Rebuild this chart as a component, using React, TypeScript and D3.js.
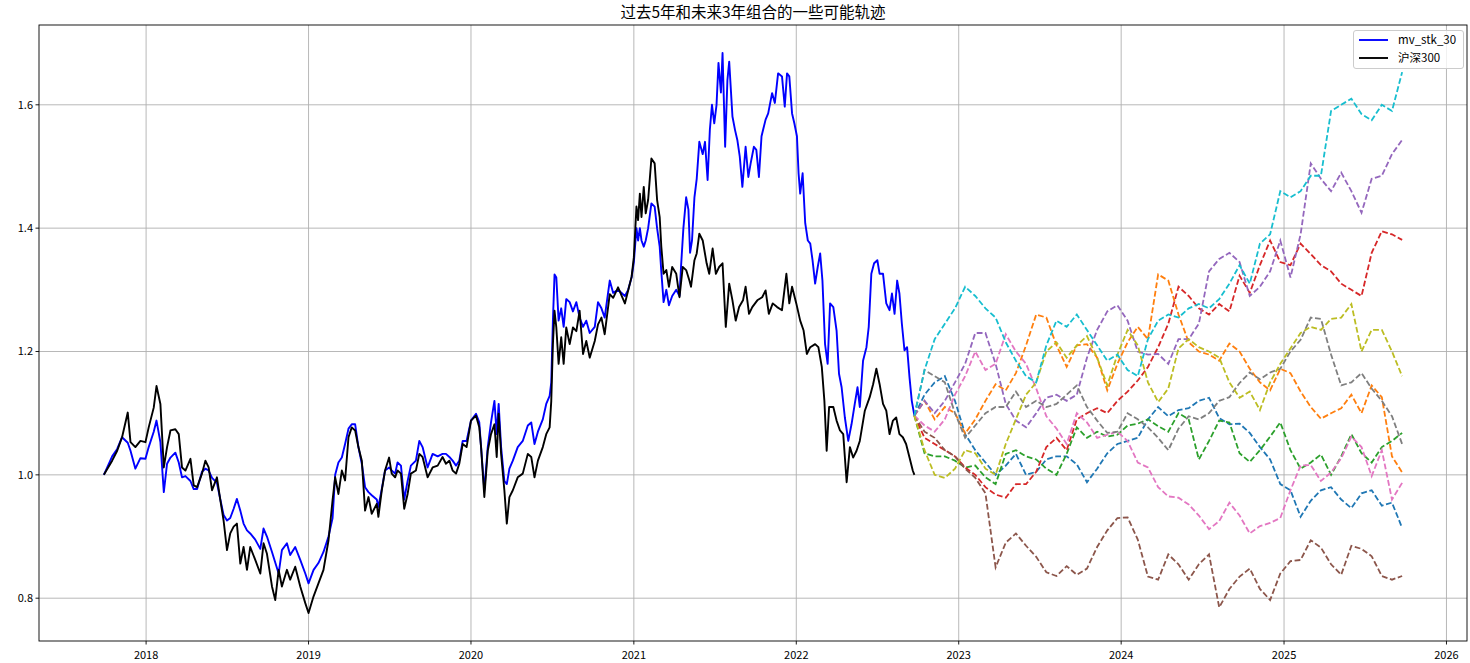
import { useEffect } from 'react';
import * as d3 from 'd3';

const W = 1470;
const H = 663;
const MARGIN = { top: 25, right: 3, bottom: 22, left: 39 };
const FONT = "SimHei, 'Noto Sans CJK SC', 'DejaVu Sans', sans-serif";

const TITLE = '过去5年和未来3年组合的一些可能轨迹';
const SERIES_NAMES = ['mv_stk_30', '沪深300'];
const Y_TICKS = [0.8, 1.0, 1.2, 1.4, 1.6];
const X_TICKS = [2018, 2019, 2020, 2021, 2022, 2023, 2024, 2025, 2026];

// history, [decimal year, value]
const HS300: [number, number][] = [
  [2017.740, 1.000], [2017.791, 1.023], [2017.822, 1.039], [2017.852, 1.061], [2017.887, 1.101], [2017.904, 1.053],
  [2017.934, 1.045], [2017.965, 1.055], [2017.996, 1.053], [2018.016, 1.077], [2018.047, 1.109], [2018.064, 1.144],
  [2018.088, 1.115], [2018.109, 1.012], [2018.129, 1.045], [2018.150, 1.072], [2018.180, 1.074], [2018.201, 1.066],
  [2018.221, 1.012], [2018.242, 1.007], [2018.273, 1.026], [2018.293, 0.983], [2018.314, 0.980], [2018.344, 1.002],
  [2018.365, 1.023], [2018.385, 1.012], [2018.406, 0.975], [2018.436, 0.996], [2018.457, 0.959], [2018.477, 0.926],
  [2018.498, 0.878], [2018.518, 0.905], [2018.539, 0.916], [2018.559, 0.921], [2018.580, 0.856], [2018.600, 0.883],
  [2018.621, 0.846], [2018.641, 0.883], [2018.672, 0.862], [2018.703, 0.840], [2018.723, 0.889], [2018.744, 0.872],
  [2018.775, 0.819], [2018.795, 0.797], [2018.816, 0.846], [2018.836, 0.819], [2018.867, 0.846], [2018.887, 0.830],
  [2018.918, 0.851], [2018.949, 0.819], [2018.980, 0.792], [2019.000, 0.776], [2019.031, 0.803], [2019.061, 0.824],
  [2019.092, 0.846], [2019.123, 0.894], [2019.148, 0.959], [2019.164, 0.996], [2019.184, 0.969], [2019.205, 1.007],
  [2019.225, 0.991], [2019.246, 1.061], [2019.266, 1.077], [2019.287, 1.072], [2019.307, 1.045], [2019.328, 1.023],
  [2019.348, 0.942], [2019.369, 0.964], [2019.389, 0.937], [2019.420, 0.953], [2019.430, 0.932], [2019.451, 0.975],
  [2019.471, 1.007], [2019.496, 1.028], [2019.512, 1.002], [2019.533, 0.996],
  [2019.548, 1.007], [2019.569, 1.002], [2019.589, 0.945], [2019.610, 0.969], [2019.630, 1.002], [2019.661, 1.007],
  [2019.682, 1.034], [2019.702, 1.029], [2019.733, 0.996], [2019.764, 1.012], [2019.795, 1.015], [2019.825, 1.029],
  [2019.846, 1.018], [2019.867, 1.023], [2019.887, 1.007], [2019.908, 1.002], [2019.928, 1.018], [2019.949, 1.050],
  [2019.973, 1.045], [2020.000, 1.088], [2020.031, 1.096], [2020.051, 1.077], [2020.062, 1.045], [2020.082, 0.964],
  [2020.103, 1.039], [2020.123, 1.066], [2020.144, 1.082], [2020.158, 1.029], [2020.170, 1.099], [2020.185, 1.034],
  [2020.205, 0.975], [2020.220, 0.921], [2020.236, 0.964], [2020.257, 0.975], [2020.287, 0.996], [2020.318, 1.002],
  [2020.349, 1.034], [2020.370, 1.029], [2020.390, 0.996], [2020.411, 1.023], [2020.441, 1.045], [2020.462, 1.066],
  [2020.483, 1.077], [2020.493, 1.120], [2020.503, 1.212], [2020.513, 1.266], [2020.524, 1.239], [2020.538, 1.180],
  [2020.554, 1.223], [2020.569, 1.180], [2020.585, 1.239], [2020.606, 1.212], [2020.626, 1.239], [2020.647, 1.233],
  [2020.667, 1.266], [2020.688, 1.196], [2020.708, 1.217], [2020.729, 1.190], [2020.760, 1.217], [2020.780, 1.244],
  [2020.801, 1.255], [2020.821, 1.228], [2020.852, 1.293], [2020.873, 1.287], [2020.903, 1.304],
  [2020.945, 1.278], [2020.965, 1.299], [2020.986, 1.321], [2021.000, 1.353], [2021.016, 1.435], [2021.026, 1.413],
  [2021.037, 1.456], [2021.047, 1.418], [2021.061, 1.467], [2021.073, 1.424], [2021.088, 1.446], [2021.108, 1.513],
  [2021.128, 1.505], [2021.143, 1.446], [2021.159, 1.418], [2021.169, 1.370], [2021.183, 1.326], [2021.200, 1.332],
  [2021.216, 1.305], [2021.236, 1.337], [2021.261, 1.326], [2021.281, 1.288], [2021.301, 1.337], [2021.322, 1.332],
  [2021.342, 1.315], [2021.352, 1.305], [2021.373, 1.348], [2021.387, 1.359], [2021.403, 1.391], [2021.424, 1.380],
  [2021.448, 1.343], [2021.464, 1.326], [2021.485, 1.367], [2021.505, 1.326], [2021.525, 1.337], [2021.546, 1.343],
  [2021.566, 1.240], [2021.587, 1.310], [2021.607, 1.283], [2021.627, 1.250], [2021.648, 1.272], [2021.672, 1.283],
  [2021.688, 1.305], [2021.709, 1.261], [2021.729, 1.272], [2021.760, 1.283], [2021.790, 1.288], [2021.811, 1.299],
  [2021.831, 1.261], [2021.855, 1.278], [2021.882, 1.272], [2021.912, 1.267], [2021.939, 1.326], [2021.957, 1.278],
  [2021.974, 1.305], [2022.000, 1.278], [2022.024, 1.250], [2022.045, 1.234], [2022.065, 1.196], [2022.086, 1.207],
  [2022.116, 1.212], [2022.136, 1.207], [2022.157, 1.175], [2022.173, 1.120], [2022.187, 1.039], [2022.202, 1.110],
  [2022.228, 1.110], [2022.248, 1.088], [2022.269, 1.072], [2022.289, 1.066], [2022.310, 0.988], [2022.330, 1.045],
  [2022.350, 1.028], [2022.371, 1.039], [2022.391, 1.055], [2022.422, 1.104], [2022.452, 1.126], [2022.473, 1.147],
  [2022.493, 1.172], [2022.513, 1.147], [2022.534, 1.115], [2022.554, 1.104], [2022.574, 1.066], [2022.595, 1.088],
  [2022.615, 1.093], [2022.635, 1.066], [2022.656, 1.061], [2022.676, 1.050], [2022.697, 1.028], [2022.717, 1.007],
  [2022.727, 1.000],
];

const MV_STK_30: [number, number][] = [
  [2017.740, 1.000], [2017.791, 1.030], [2017.822, 1.042], [2017.852, 1.061], [2017.887, 1.052], [2017.904, 1.039],
  [2017.934, 1.010], [2017.965, 1.027], [2017.996, 1.026], [2018.016, 1.045], [2018.047, 1.070], [2018.064, 1.088],
  [2018.088, 1.053], [2018.109, 0.972], [2018.129, 1.018], [2018.150, 1.028], [2018.180, 1.036], [2018.201, 1.020],
  [2018.221, 0.996], [2018.242, 0.998], [2018.273, 0.990], [2018.293, 0.977], [2018.314, 0.977], [2018.344, 1.005],
  [2018.365, 1.010], [2018.385, 1.007], [2018.406, 0.995], [2018.436, 0.987], [2018.457, 0.960], [2018.477, 0.935],
  [2018.498, 0.926], [2018.518, 0.930], [2018.539, 0.945], [2018.559, 0.961], [2018.580, 0.942], [2018.600, 0.921],
  [2018.621, 0.910], [2018.641, 0.905], [2018.672, 0.895], [2018.703, 0.880], [2018.723, 0.913], [2018.744, 0.900],
  [2018.775, 0.875], [2018.795, 0.858], [2018.816, 0.840], [2018.836, 0.878], [2018.867, 0.889], [2018.887, 0.870],
  [2018.918, 0.883], [2018.949, 0.862], [2018.980, 0.840], [2019.000, 0.824], [2019.031, 0.846], [2019.061, 0.857],
  [2019.092, 0.875], [2019.123, 0.900], [2019.148, 0.930], [2019.164, 1.000], [2019.184, 1.020], [2019.205, 1.028],
  [2019.225, 1.050], [2019.246, 1.075], [2019.266, 1.082], [2019.287, 1.082], [2019.307, 1.045], [2019.328, 1.018],
  [2019.348, 0.980], [2019.369, 0.972], [2019.389, 0.967], [2019.420, 0.960], [2019.430, 0.948], [2019.451, 0.977],
  [2019.471, 1.007], [2019.496, 1.012], [2019.512, 1.007], [2019.533, 1.002],
  [2019.548, 1.020], [2019.569, 1.015], [2019.589, 0.960], [2019.610, 0.990], [2019.630, 1.015], [2019.661, 1.023],
  [2019.682, 1.055], [2019.702, 1.045], [2019.733, 1.012], [2019.764, 1.034], [2019.795, 1.030], [2019.825, 1.034],
  [2019.846, 1.034], [2019.867, 1.029], [2019.887, 1.023], [2019.908, 1.015], [2019.928, 1.023], [2019.949, 1.055],
  [2019.973, 1.055], [2020.000, 1.088], [2020.031, 1.099], [2020.051, 1.085], [2020.062, 1.045], [2020.082, 0.975],
  [2020.103, 1.045], [2020.123, 1.085], [2020.144, 1.120], [2020.158, 1.066], [2020.170, 1.115], [2020.185, 1.045],
  [2020.205, 0.990], [2020.220, 0.985], [2020.236, 1.010], [2020.257, 1.023], [2020.287, 1.045], [2020.318, 1.055],
  [2020.349, 1.080], [2020.370, 1.085], [2020.390, 1.050], [2020.411, 1.070], [2020.441, 1.090], [2020.462, 1.115],
  [2020.483, 1.128], [2020.493, 1.150], [2020.503, 1.250], [2020.513, 1.325], [2020.524, 1.320], [2020.538, 1.250],
  [2020.554, 1.270], [2020.569, 1.240], [2020.585, 1.285], [2020.606, 1.280], [2020.626, 1.265], [2020.647, 1.280],
  [2020.667, 1.255], [2020.688, 1.240], [2020.708, 1.250], [2020.729, 1.230], [2020.760, 1.240], [2020.780, 1.280],
  [2020.801, 1.270], [2020.821, 1.255], [2020.852, 1.315], [2020.873, 1.295], [2020.903, 1.300],
  [2020.945, 1.290], [2020.965, 1.300], [2020.986, 1.320], [2021.000, 1.345], [2021.016, 1.400], [2021.026, 1.380],
  [2021.037, 1.400], [2021.047, 1.380], [2021.061, 1.370], [2021.073, 1.380], [2021.088, 1.400], [2021.108, 1.440],
  [2021.128, 1.435], [2021.143, 1.400], [2021.159, 1.370], [2021.169, 1.330], [2021.183, 1.280], [2021.200, 1.300],
  [2021.216, 1.275], [2021.236, 1.290], [2021.261, 1.300], [2021.281, 1.290], [2021.291, 1.340], [2021.305, 1.400],
  [2021.322, 1.450], [2021.336, 1.430], [2021.346, 1.360], [2021.358, 1.380], [2021.373, 1.450], [2021.387, 1.480],
  [2021.403, 1.540], [2021.424, 1.520], [2021.438, 1.540], [2021.454, 1.478], [2021.468, 1.560], [2021.481, 1.600],
  [2021.495, 1.570], [2021.509, 1.600], [2021.521, 1.668], [2021.536, 1.620], [2021.546, 1.684], [2021.562, 1.532],
  [2021.576, 1.640], [2021.587, 1.670], [2021.607, 1.581], [2021.623, 1.559], [2021.637, 1.543], [2021.652, 1.516],
  [2021.668, 1.467], [2021.688, 1.532], [2021.705, 1.483], [2021.719, 1.505], [2021.739, 1.532], [2021.754, 1.527],
  [2021.770, 1.483], [2021.786, 1.549], [2021.811, 1.576], [2021.827, 1.586], [2021.851, 1.619], [2021.868, 1.603],
  [2021.888, 1.651], [2021.912, 1.646], [2021.929, 1.597], [2021.943, 1.651], [2021.957, 1.646], [2021.974, 1.586],
  [2021.988, 1.570], [2022.004, 1.549], [2022.014, 1.489], [2022.024, 1.456], [2022.039, 1.489], [2022.055, 1.408],
  [2022.071, 1.380], [2022.086, 1.375], [2022.100, 1.348], [2022.116, 1.310], [2022.132, 1.337], [2022.147, 1.359],
  [2022.161, 1.315], [2022.177, 1.212], [2022.193, 1.180], [2022.208, 1.278], [2022.228, 1.272], [2022.248, 1.234],
  [2022.263, 1.164], [2022.279, 1.142], [2022.299, 1.093], [2022.320, 1.055], [2022.340, 1.082], [2022.360, 1.115],
  [2022.377, 1.142], [2022.391, 1.110], [2022.411, 1.185], [2022.432, 1.207], [2022.446, 1.240], [2022.462, 1.326],
  [2022.479, 1.343], [2022.499, 1.348], [2022.513, 1.326], [2022.534, 1.326], [2022.554, 1.278], [2022.574, 1.267],
  [2022.589, 1.294], [2022.605, 1.261], [2022.621, 1.315], [2022.635, 1.294], [2022.650, 1.245], [2022.666, 1.202],
  [2022.682, 1.207], [2022.697, 1.158], [2022.711, 1.120], [2022.727, 1.096],
];

// simulated paths: one value every 1/16 year from SIM_START
const SIM_START = 2022.727;
const SIM_STEP = 1 / 16;

const simBlue = [1.096, 1.13, 1.15, 1.16, 1.12, 1.066, 1.04, 1.02, 1.0, 1.015, 1.034, 1.0, 1.005, 1.025, 1.03, 1.03, 1.017, 0.988, 1.01, 1.035, 1.05, 1.055, 1.06, 1.09, 1.11, 1.095, 1.105, 1.108, 1.12, 1.125, 1.092, 1.082, 1.083, 1.068, 1.045, 1.025, 0.985, 0.975, 0.932, 0.958, 0.975, 0.98, 0.96, 0.946, 0.97, 0.975, 0.95, 0.955, 0.914];
const simOrange = [1.096, 1.12, 1.09, 1.11, 1.10, 1.067, 1.09, 1.12, 1.147, 1.137, 1.165, 1.21, 1.26, 1.255, 1.21, 1.175, 1.21, 1.212, 1.19, 1.137, 1.18, 1.215, 1.24, 1.22, 1.325, 1.315, 1.26, 1.215, 1.20, 1.195, 1.185, 1.213, 1.20, 1.172, 1.15, 1.137, 1.172, 1.165, 1.135, 1.11, 1.091, 1.10, 1.108, 1.13, 1.10, 1.145, 1.126, 1.03, 1.004];
const simGreen = [1.096, 1.035, 1.03, 1.03, 1.023, 1.012, 1.015, 0.996, 0.985, 1.034, 1.04, 1.03, 1.025, 1.01, 1.00, 1.034, 1.077, 1.06, 1.07, 1.062, 1.065, 1.08, 1.083, 1.09, 1.079, 1.07, 1.10, 1.09, 1.025, 1.055, 1.088, 1.085, 1.035, 1.021, 1.04, 1.062, 1.085, 1.04, 1.01, 1.02, 1.033, 1.00, 1.03, 1.066, 1.035, 1.02, 1.045, 1.055, 1.068];
const simRed = [1.096, 1.06, 1.05, 1.04, 1.03, 1.012, 1.00, 0.98, 0.968, 0.963, 0.985, 0.985, 1.005, 1.045, 1.06, 1.04, 1.09, 1.10, 1.108, 1.10, 1.12, 1.135, 1.153, 1.175, 1.207, 1.245, 1.305, 1.29, 1.27, 1.26, 1.277, 1.265, 1.323, 1.295, 1.34, 1.38, 1.345, 1.34, 1.375, 1.358, 1.34, 1.33, 1.31, 1.30, 1.29, 1.36, 1.395, 1.39, 1.381];
const simPurple = [1.096, 1.12, 1.10, 1.12, 1.15, 1.18, 1.23, 1.23, 1.18, 1.115, 1.088, 1.077, 1.10, 1.125, 1.13, 1.12, 1.13, 1.19, 1.235, 1.265, 1.275, 1.25, 1.20, 1.195, 1.196, 1.18, 1.22, 1.22, 1.245, 1.33, 1.35, 1.36, 1.345, 1.29, 1.305, 1.33, 1.38, 1.32, 1.39, 1.505, 1.48, 1.46, 1.49, 1.46, 1.425, 1.48, 1.485, 1.52, 1.543];
const simBrown = [1.096, 1.07, 1.06, 1.04, 1.03, 1.01, 0.995, 0.97, 0.85, 0.89, 0.905, 0.885, 0.867, 0.842, 0.836, 0.852, 0.838, 0.848, 0.883, 0.91, 0.93, 0.931, 0.895, 0.835, 0.83, 0.871, 0.855, 0.83, 0.855, 0.871, 0.785, 0.815, 0.835, 0.848, 0.815, 0.797, 0.84, 0.86, 0.862, 0.894, 0.882, 0.855, 0.838, 0.885, 0.88, 0.868, 0.836, 0.83, 0.836];
const simPink = [1.096, 1.08, 1.07, 1.09, 1.13, 1.16, 1.20, 1.17, 1.18, 1.228, 1.20, 1.18, 1.14, 1.095, 1.075, 1.05, 1.10, 1.085, 1.06, 1.065, 1.07, 1.055, 1.02, 1.012, 0.98, 0.965, 0.963, 0.952, 0.934, 0.912, 0.925, 0.955, 0.934, 0.905, 0.917, 0.922, 0.93, 0.975, 1.015, 1.016, 0.99, 1.004, 1.027, 1.062, 1.045, 0.998, 1.04, 0.96, 0.987];
const simGray = [1.096, 1.17, 1.16, 1.15, 1.10, 1.06, 1.08, 1.10, 1.11, 1.11, 1.135, 1.11, 1.12, 1.11, 1.115, 1.13, 1.145, 1.11, 1.088, 1.068, 1.07, 1.10, 1.09, 1.077, 1.06, 1.04, 1.075, 1.095, 1.09, 1.10, 1.12, 1.126, 1.149, 1.166, 1.155, 1.166, 1.172, 1.20, 1.219, 1.255, 1.253, 1.195, 1.145, 1.15, 1.165, 1.14, 1.12, 1.095, 1.05];
const simOlive = [1.096, 1.04, 1.00, 0.995, 1.01, 1.04, 1.035, 1.01, 1.00, 1.05, 1.09, 1.13, 1.15, 1.20, 1.215, 1.19, 1.21, 1.225, 1.19, 1.145, 1.195, 1.235, 1.21, 1.15, 1.118, 1.14, 1.205, 1.22, 1.207, 1.20, 1.19, 1.15, 1.125, 1.135, 1.105, 1.15, 1.18, 1.205, 1.23, 1.24, 1.235, 1.253, 1.255, 1.277, 1.20, 1.235, 1.235, 1.20, 1.16];
const simCyan = [1.096, 1.17, 1.22, 1.245, 1.27, 1.305, 1.29, 1.27, 1.255, 1.215, 1.185, 1.16, 1.15, 1.21, 1.25, 1.24, 1.26, 1.235, 1.21, 1.185, 1.195, 1.17, 1.16, 1.22, 1.25, 1.26, 1.255, 1.27, 1.277, 1.27, 1.285, 1.31, 1.34, 1.31, 1.375, 1.39, 1.46, 1.45, 1.46, 1.485, 1.485, 1.59, 1.60, 1.61, 1.585, 1.575, 1.60, 1.59, 1.653];

const SIMS = [simBlue, simOrange, simGreen, simRed, simPurple, simBrown, simPink, simGray, simOlive, simCyan];
const SIM_COLORS = d3.schemeCategory10;

function yearToDate(t: number) {
  const y = Math.floor(t);
  const a = new Date(y, 0, 1).getTime();
  const b = new Date(y + 1, 0, 1).getTime();
  return new Date(a + (t - y) * (b - a));
}

export default function App() {
  useEffect(() => {
    document.body.style.margin = '0';
  }, []);

  const simPoints = SIMS.map((s) => s.map((v, i) => [SIM_START + i * SIM_STEP, v] as [number, number]));

  // matplotlib-like 5% margins on the data extent
  const allT = [...HS300.map((d) => d[0]), ...simPoints.flat().map((d) => d[0])];
  const allV = [...HS300.map((d) => d[1]), ...MV_STK_30.map((d) => d[1]), ...SIMS.flat()];
  const [t0, t1] = d3.extent(allT) as [number, number];
  const [v0, v1] = d3.extent(allV) as [number, number];
  const tp = (t1 - t0) * 0.05;
  const vp = (v1 - v0) * 0.05;

  const x = d3
    .scaleTime()
    .domain([yearToDate(t0 - tp), yearToDate(t1 + tp)])
    .range([MARGIN.left, W - MARGIN.right]);
  const y = d3
    .scaleLinear()
    .domain([v0 - vp, v1 + vp])
    .range([H - MARGIN.bottom, MARGIN.top]);

  const line = d3
    .line<[number, number]>()
    .x((d) => x(yearToDate(d[0])))
    .y((d) => y(d[1]));

  const left = MARGIN.left;
  const right = W - MARGIN.right;
  const top = MARGIN.top;
  const bottom = H - MARGIN.bottom;

  return (
    <svg width={W} height={H} style={{ display: 'block', background: '#fff', fontFamily: FONT }}>
      <rect width={W} height={H} fill="#fff" />

      {/* grid */}
      <g stroke="#b0b0b0" strokeWidth={0.9}>
        {X_TICKS.map((yr) => {
          const px = x(new Date(yr, 0, 1));
          return <line key={'gx' + yr} x1={px} x2={px} y1={top} y2={bottom} />;
        })}
        {Y_TICKS.map((v) => (
          <line key={'gy' + v} x1={left} x2={right} y1={y(v)} y2={y(v)} />
        ))}
      </g>

      {/* history */}
      <path d={line(MV_STK_30) ?? ''} fill="none" stroke="#0000ff" strokeWidth={1.9} strokeLinejoin="round" />
      <path d={line(HS300) ?? ''} fill="none" stroke="#000000" strokeWidth={1.9} strokeLinejoin="round" />

      {/* simulations */}
      {simPoints.map((pts, i) => (
        <path
          key={'sim' + i}
          d={line(pts) ?? ''}
          fill="none"
          stroke={SIM_COLORS[i]}
          strokeWidth={1.8}
          strokeDasharray="5.8,2.6"
        />
      ))}

      {/* spines */}
      <rect x={left} y={top} width={right - left} height={bottom - top} fill="none" stroke="#000" strokeWidth={0.9} />

      {/* ticks */}
      <g fontSize={11} fill="#000">
        {X_TICKS.map((yr) => {
          const px = x(new Date(yr, 0, 1));
          return (
            <g key={'tx' + yr}>
              <line x1={px} x2={px} y1={bottom} y2={bottom + 3.5} stroke="#000" strokeWidth={0.9} />
              <text x={px} y={bottom + 18} textAnchor="middle">
                {yr}
              </text>
            </g>
          );
        })}
        {Y_TICKS.map((v) => (
          <g key={'ty' + v}>
            <line x1={left - 3.5} x2={left} y1={y(v)} y2={y(v)} stroke="#000" strokeWidth={0.9} />
            <text x={left - 6} y={y(v)} dy="0.36em" textAnchor="end">
              {v.toFixed(1)}
            </text>
          </g>
        ))}
      </g>

      {/* title */}
      <text x={(left + right) / 2} y={top - 7} textAnchor="middle" fontSize={15.5} fill="#000">
        {TITLE}
      </text>

      {/* legend */}
      <g transform={`translate(${right - 114},${top + 5})`}>
        <rect x={0.5} y={0.5} width={110} height={38} rx={2.5} fill="#fff" fillOpacity={0.8} stroke="#cccccc" />
        {SERIES_NAMES.map((name, i) => (
          <g key={name} transform={`translate(0,${10 + i * 18})`}>
            <line x1={6} x2={35} y1={0} y2={0} stroke={i === 0 ? '#0000ff' : '#000'} strokeWidth={1.9} />
            <text x={45} y={0} dy="0.36em" fontSize={11.5} fill="#000">
              {name}
            </text>
          </g>
        ))}
      </g>
    </svg>
  );
}
